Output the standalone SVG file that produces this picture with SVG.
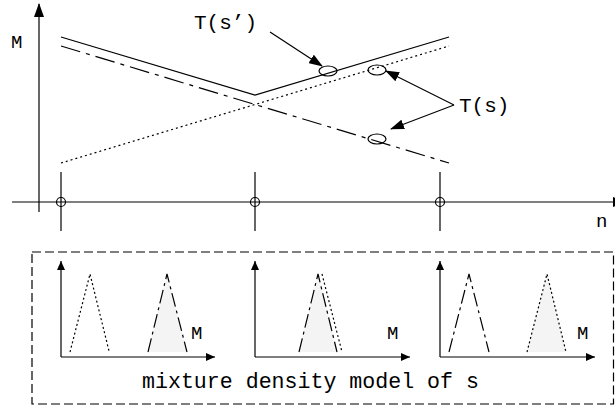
<svg xmlns="http://www.w3.org/2000/svg" width="615" height="406" viewBox="0 0 615 406">
<defs>
<marker id="ah" markerWidth="14" markerHeight="10" refX="13" refY="5" orient="auto" markerUnits="userSpaceOnUse">
<path d="M0,0 L14,5 L0,10 Z" fill="#000"/>
</marker>
<marker id="sh" markerWidth="9" markerHeight="8" refX="9" refY="4" orient="auto" markerUnits="userSpaceOnUse">
<path d="M0,0 L9,4 L0,8 Z" fill="#000"/>
</marker>
<style>
.ax{stroke:#000;stroke-width:1.2;fill:none}
.sol{stroke:#000;stroke-width:1.2;fill:none}
.dd{stroke:#000;stroke-width:1.2;fill:none;stroke-dasharray:20,6,4,6}
.dt{stroke:#000;stroke-width:1.2;fill:none;stroke-dasharray:2,3}
.tdd{stroke:#000;stroke-width:1.2;stroke-dasharray:14,4,3,4}
.tdt{stroke:#000;stroke-width:1.2;stroke-dasharray:2,2.5}
.fill{fill:#f4f4f4}
.nofill{fill:none}
.t{font-family:"Liberation Mono","Courier New",monospace;fill:#000}
.big{font-size:21px}
.sm{font-size:19px}
.ell{fill:none;stroke:#000;stroke-width:1.2}
</style>
</defs>

<g id="main-axes">
<line class="ax" x1="39" y1="212" x2="39" y2="4" marker-end="url(#ah)"/>
<line class="ax" x1="12" y1="202" x2="626" y2="202" marker-end="url(#ah)"/>
<text class="t sm" x="11" y="48">M</text>
<text class="t sm" x="596" y="227">n</text>
</g>

<g id="ticks">
<line class="ax" x1="61" y1="172" x2="61" y2="231"/>
<circle class="ell" cx="61" cy="202" r="4.5"/>
<line class="ax" x1="255" y1="172" x2="255" y2="231"/>
<circle class="ell" cx="255" cy="202" r="4.5"/>
<line class="ax" x1="440" y1="172" x2="440" y2="231"/>
<circle class="ell" cx="440" cy="202" r="4.5"/>
</g>

<g id="curves">
<polyline class="sol" points="61,37 255,95 449,37"/>
<line class="dd" x1="61" y1="46" x2="449" y2="163"/>
<line class="dt" x1="61" y1="163" x2="449" y2="46"/>
</g>

<g id="markers">
<ellipse class="ell" cx="328" cy="71" rx="9" ry="5"/>
<ellipse class="ell" cx="377" cy="70" rx="9" ry="5"/>
<ellipse class="ell" cx="377" cy="139" rx="9" ry="5"/>
</g>

<g id="label-Ts-prime">
<text class="t big" x="194" y="29">T(s’)</text>
</g>
<g id="label-Ts">
<text class="t big" x="459" y="112">T(s)</text>
</g>

<g id="connectors">
<line class="sol" x1="270" y1="32" x2="322" y2="66" marker-end="url(#ah)"/>
<line class="sol" x1="454" y1="105" x2="386" y2="71" marker-end="url(#ah)"/>
<line class="sol" x1="454" y1="105" x2="391" y2="129" marker-end="url(#ah)"/>
</g>

<g id="mixture-box">
<rect x="32" y="252" width="581.5" height="152" fill="none" stroke="#000" stroke-width="1.2" stroke-dasharray="9,4"/>
<text class="t big" x="142" y="388" style="font-size:21.6px">mixture density model of s</text>
</g>

<g id="subplot-1">
<line class="ax" x1="61" y1="357" x2="215" y2="357" marker-end="url(#sh)"/>
<line class="ax" x1="61" y1="357" x2="61" y2="261" marker-end="url(#sh)"/>
<polyline class="tdt nofill" points="70,352 90,274 109,351"/>
<polygon class="fill" points="148,352 167,274 187,352"/>
<polyline class="tdd nofill" points="148,352 167,274 187,352"/>
<text class="t sm" x="191" y="339">M</text>
</g>

<g id="subplot-2">
<line class="ax" x1="255" y1="357" x2="410" y2="357" marker-end="url(#sh)"/>
<line class="ax" x1="255" y1="357" x2="255" y2="261" marker-end="url(#sh)"/>
<polygon class="fill" points="299,352 318,274 337,352"/>
<polyline class="tdd nofill" points="299,352 318,274 337,352"/>
<polyline class="tdt nofill" points="322,274 342,352"/>
<text class="t sm" x="387" y="339">M</text>
</g>

<g id="subplot-3">
<line class="ax" x1="440" y1="357" x2="595" y2="357" marker-end="url(#sh)"/>
<line class="ax" x1="440" y1="357" x2="440" y2="261" marker-end="url(#sh)"/>
<polyline class="tdd nofill" points="449,352 469,274 489,352"/>
<polygon class="fill" points="527,352 547,274 566,352"/>
<polyline class="tdt nofill" points="527,352 547,274 566,352"/>
<text class="t sm" x="577" y="339">M</text>
</g>
</svg>
